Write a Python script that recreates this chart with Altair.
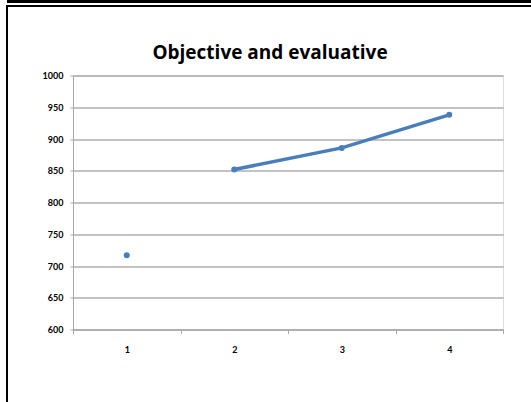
import altair as alt
import pandas as pd

# Series values per category; the first point stands on its own (no connecting segment)
categories = ["1", "2", "3", "4"]
values = [717, 852, 886, 938]
segments = ["a", "b", "b", "b"]
chart_title = "Objective and evaluative"

df = pd.DataFrame({"cat": categories, "value": values, "seg": segments})

BLUE = "#4a7ebb"
PAD_L, PAD_T = 73, 75.5

x_enc = alt.X(
    "cat:O",
    sort=categories,
    scale=alt.Scale(type="band", paddingInner=0, paddingOuter=0),
    axis=alt.Axis(
        title=None, labelAngle=0, tickBand="extent", grid=False,
        domainColor="#a6a6a6", tickColor="#a6a6a6", tickSize=4,
        labelFont="Lato", labelFontWeight="bold", labelFontSize=9,
        labelColor="#000000", labelPadding=12,
    ),
)
y_enc = alt.Y(
    "value:Q",
    scale=alt.Scale(domain=[600, 1000], nice=False, zero=False),
    axis=alt.Axis(
        title=None, values=list(range(600, 1001, 50)), format="d",
        grid=True, gridColor="#868686", gridWidth=1,
        domainColor="#a6a6a6", tickColor="#a6a6a6", tickSize=3,
        labelFont="Lato", labelFontWeight="bold", labelFontSize=9,
        labelColor="#000000", labelPadding=7,
    ),
)

line = alt.Chart(df).mark_line(color=BLUE, strokeWidth=3.5).encode(
    x=x_enc, y=y_enc, detail="seg:N"
)
points = alt.Chart(df).mark_circle(color=BLUE, size=36, opacity=1).encode(
    x=x_enc, y=y_enc
)

# Chart title, centred over the whole chart area
title = alt.Chart(pd.DataFrame({"t": [chart_title]})).mark_text(
    font="Open Sans", fontSize=19, fontWeight="bold", color="#000000",
    align="center", baseline="alphabetic", clip=False,
).encode(x=alt.value(270 - PAD_L), y=alt.value(59 - PAD_T), text="t:N")

# Page frame lines around the chart
frame_top1 = alt.Chart(df).mark_rule(color="black", strokeWidth=3, clip=False).encode(
    x=alt.value(7 - PAD_L), x2=alt.value(531 - PAD_L), y=alt.value(1.5 - PAD_T)
)
frame_top2 = alt.Chart(df).mark_rule(color="black", strokeWidth=2, clip=False).encode(
    x=alt.value(7 - PAD_L), x2=alt.value(531 - PAD_L), y=alt.value(6 - PAD_T)
)
frame_left = alt.Chart(df).mark_rule(color="black", strokeWidth=2, clip=False).encode(
    x=alt.value(7 - PAD_L), y=alt.value(5 - PAD_T), y2=alt.value(402 - PAD_T)
)

chart = alt.layer(line, points, title, frame_top1, frame_top2, frame_left).properties(
    width=430,
    height=254,
    autosize=alt.AutoSizeParams(type="none"),
    padding={"left": PAD_L, "top": PAD_T, "right": 28, "bottom": 72.5},
).configure_view(stroke=None).configure(background="white")

chart.save("out.html", embed_options={"renderer": "svg", "actions": False})
